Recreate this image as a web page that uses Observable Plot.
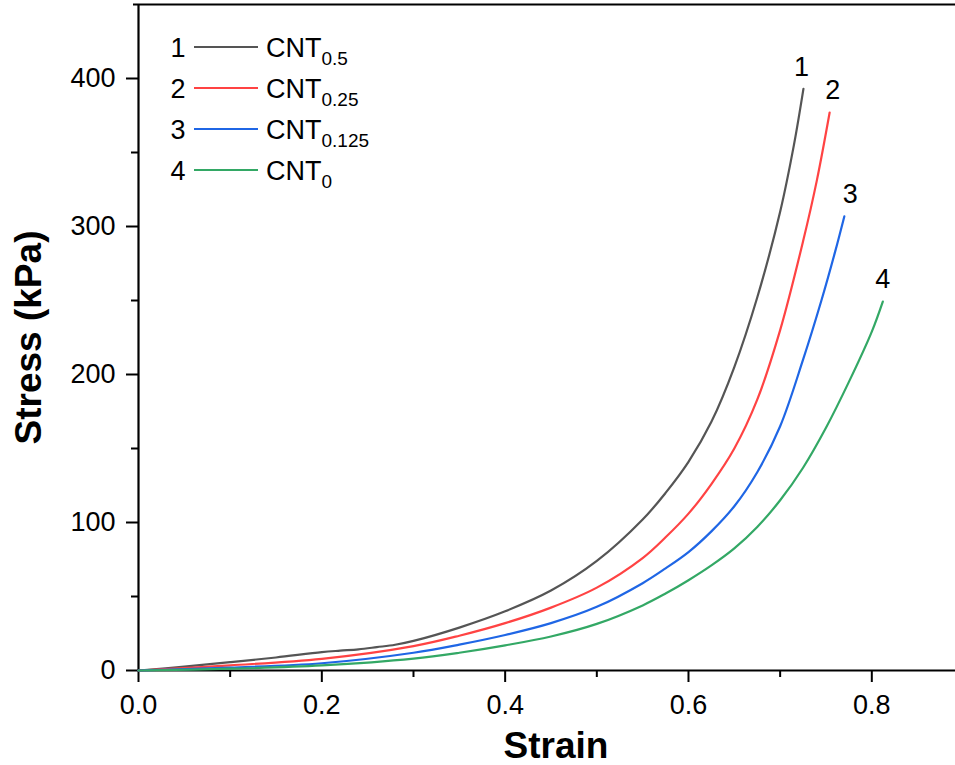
<!DOCTYPE html>
<html><head><meta charset="utf-8">
<script src="https://cdn.jsdelivr.net/npm/d3@7"></script>
<script src="https://cdn.jsdelivr.net/npm/@observablehq/plot@0.6"></script>
<style>body{margin:0;background:#fff}</style>
</head><body><div id="chart"></div>
<script>
// Series
const seriesIds = ["1", "2", "3", "4"];
const seriesBase = ["CNT", "CNT", "CNT", "CNT"];
const seriesSub = ["0.5", "0.25", "0.125", "0"];
const seriesColors = ["#555555", "#ff4343", "#1f66e5", "#33a865"];

// Curve 1: CNT0.5
const strain1 = [0, 0.05, 0.1, 0.15, 0.2, 0.22, 0.24, 0.26, 0.28, 0.3, 0.35, 0.4, 0.45, 0.5, 0.55, 0.575, 0.6, 0.625, 0.65, 0.675, 0.7, 0.715, 0.7254];
const stress1 = [0, 2.6, 5.6, 8.8, 12.4, 13.4, 14.3, 15.8, 17.4, 20, 29, 40, 54, 74, 102, 120, 141, 168, 205, 252, 310, 355, 393];
// Curve 2: CNT0.25
const strain2 = [0, 0.1, 0.2, 0.3, 0.35, 0.4, 0.45, 0.5, 0.55, 0.575, 0.6, 0.625, 0.65, 0.675, 0.7, 0.725, 0.74, 0.754];
const stress2 = [0, 3.5, 7.9, 16.5, 23.5, 32, 42.5, 56, 76, 90, 106, 126, 150, 183, 230, 290, 331, 377];
// Curve 3: CNT0.125
const strain3 = [0, 0.1, 0.2, 0.3, 0.35, 0.4, 0.45, 0.5, 0.55, 0.575, 0.6, 0.625, 0.65, 0.675, 0.7, 0.725, 0.745, 0.76, 0.77];
const stress3 = [0, 2, 4.9, 12, 17.5, 24, 32, 43, 59, 69, 80, 94, 111, 134, 165, 210, 250, 283, 306.8];
// Curve 4: CNT0
const strain4 = [0, 0.1, 0.2, 0.3, 0.35, 0.4, 0.45, 0.5, 0.55, 0.575, 0.6, 0.625, 0.65, 0.675, 0.7, 0.725, 0.75, 0.775, 0.8, 0.812];
const stress4 = [0, 1.2, 3.4, 8, 12, 17, 23, 31.5, 44, 52, 61, 71, 82.5, 97, 115, 137, 164, 195, 229, 249.3];

// Ticks
const xTicks = [0, 0.2, 0.4, 0.6, 0.8];
const xMinor = [0.1, 0.3, 0.5, 0.7];
const yTicks = [0, 100, 200, 300, 400];
const yMinor = [50, 150, 250, 350];
const xTitle = "Strain";
const yTitle = "Stress (kPa)";

const strains = [strain1, strain2, strain3, strain4];
const stresses = [stress1, stress2, stress3, stress4];
const rows = [];
seriesIds.forEach((id, i) => strains[i].forEach((s, j) => rows.push({id, strain: s, stress: stresses[i][j]})));
const ends = seriesIds.map((id, i) => ({id, strain: strains[i].at(-1), stress: stresses[i].at(-1)}));
const endDx = [-2, 3, 6, 0];

const font = "Liberation Sans, Arial, Helvetica, sans-serif";
const chart = Plot.plot({
  width: 955, height: 765,
  marginLeft: 138, marginRight: 0, marginTop: 4, marginBottom: 95,
  style: {fontFamily: font, fontSize: "27px", color: "#000", background: "#fff"},
  x: {domain: [0, 0.8913]},
  y: {domain: [0, 450]},
  color: {domain: seriesIds, range: seriesColors},
  marks: [
    Plot.axisX({ticks: xTicks, tickSize: 12, tickPadding: 12, tickFormat: d3.format(".1f"), strokeWidth: 2, label: null, fontSize: 27}),
    Plot.axisX({ticks: xMinor, tickSize: 7, text: null, strokeWidth: 2, label: null}),
    Plot.axisY({ticks: yTicks, tickSize: 12, tickPadding: 11, strokeWidth: 2, label: null, fontSize: 27}),
    Plot.axisY({ticks: yMinor, tickSize: 7, text: null, strokeWidth: 2, label: null}),
    Plot.ruleX([0], {stroke: "#000", strokeWidth: 2.2}),
    Plot.ruleY([0], {stroke: "#000", strokeWidth: 2.2}),
    Plot.ruleY([450], {stroke: "#000", strokeWidth: 2.2, insetLeft: -5}),
    Plot.line(rows, {x: "strain", y: "stress", z: "id", stroke: "id", strokeWidth: 2.2, curve: "catmull-rom"}),
    ...ends.map((e, i) => Plot.text([e], {x: "strain", y: "stress", text: "id", dx: endDx[i], dy: -22, fontSize: 27, fill: "#000"})),
    Plot.text([xTitle], {frameAnchor: "bottom", lineAnchor: "middle", dx: 9, dy: 76, fontSize: 37, fontWeight: "bold", fill: "#000"}),
    Plot.text([yTitle], {frameAnchor: "left", textAnchor: "middle", lineAnchor: "middle", dx: -109, dy: 0, rotate: -90, fontSize: 37, fontWeight: "bold", fill: "#000"})
  ]
});
document.getElementById("chart").appendChild(chart);

// Legend (inside plot, top-left)
const svg = d3.select(chart);
const lg = svg.append("g").attr("font-family", font).attr("fill", "#000");
seriesIds.forEach((id, i) => {
  const cy = 47 + i * 41;
  lg.append("text").attr("x", 178).attr("y", cy + 10).attr("text-anchor", "middle").attr("font-size", 27).text(id);
  lg.append("line").attr("x1", 194).attr("x2", 258).attr("y1", cy).attr("y2", cy)
    .attr("stroke", seriesColors[i]).attr("stroke-width", 2.2);
  const t = lg.append("text").attr("x", 266).attr("y", cy + 10).attr("text-anchor", "start").attr("font-size", 27);
  t.append("tspan").text(seriesBase[i]);
  t.append("tspan").attr("dy", 8).attr("font-size", 19).text(seriesSub[i]);
});
</script>
</body></html>
